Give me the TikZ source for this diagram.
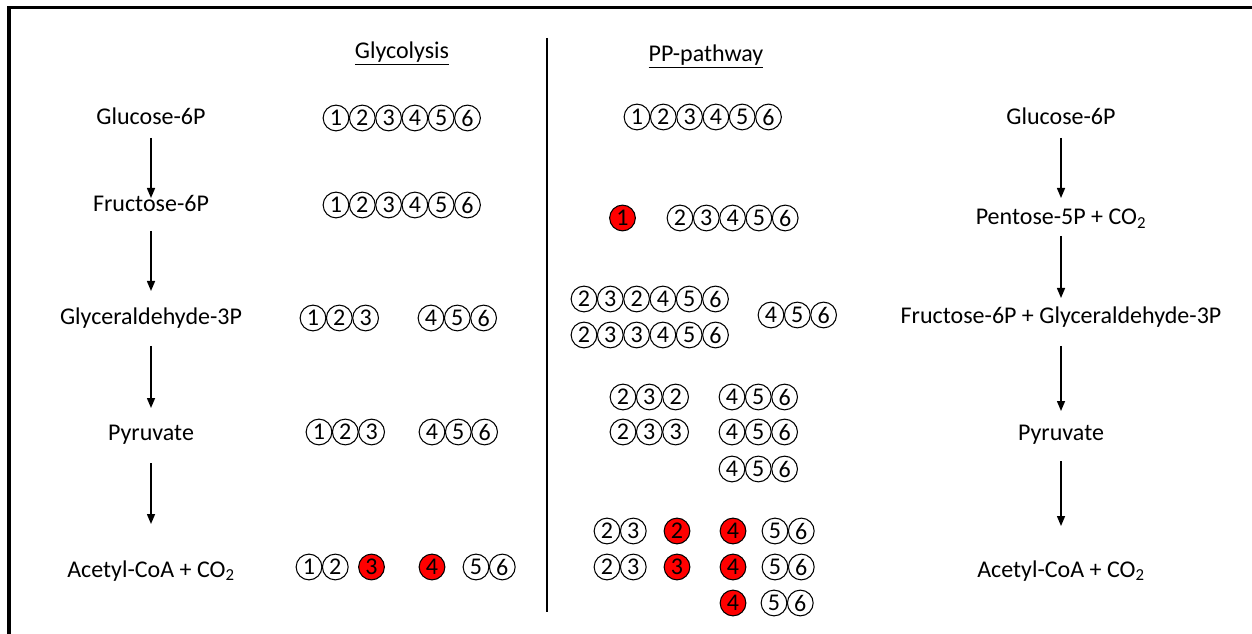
\documentclass[tikz,border=0pt]{standalone}
\usepackage{fontspec}
\setmainfont{Carlito}
\usetikzlibrary{arrows.meta}
\newcommand\cnrow[5]{\foreach \d [count=\i] in {#5}{\node[#2] (#1-\i) at ({#3+(\i-1)*26.3},#4) {\d};}}
\begin{document}
\begin{tikzpicture}[x=0.75pt,y=-0.75pt,
 lbl/.style={inner sep=0pt, font=\fontsize{18}{20}\selectfont, text height=13pt, text depth=4pt},
 cn/.style={circle, draw=black, line width=0.8pt, minimum size=19.3pt, inner sep=0pt, font=\fontsize{18}{20}\selectfont},
 cnred/.style={cn, fill=red},
 arr/.style={line width=1.1pt, -{Triangle[length=7.5pt,width=6pt]}},
 frame/.style={line width=2.3pt},
 divider/.style={line width=1.5pt}]
\useasboundingbox (0,0) rectangle (1252,634);
\draw[frame] (9,650) -- (9,7.5) -- (1270,7.5);
\draw[divider] (547,38) -- (547,612);
% headings
\node[lbl] (H1) at (402,53) {\underline{Glycolysis}};
\node[lbl] (H2) at (706,56) {\underline{PP-pathway}};
% left column
\node[lbl] (L1) at (151,119) {Glucose-6P};
\node[lbl] (L2) at (151,206) {Fructose-6P};
\node[lbl] (L3) at (151,319) {Glyceraldehyde-3P};
\node[lbl] (L4) at (151,434) {Pyruvate};
\node[lbl] (L5) at (151,571) {Acetyl-CoA + CO\textsubscript{2}};
% right column
\node[lbl] (R1) at (1061,119) {Glucose-6P};
\node[lbl] (R2) at (1061,219) {Pentose-5P + CO\textsubscript{2}};
\node[lbl] (R3) at (1061,318) {Fructose-6P + Glyceraldehyde-3P};
\node[lbl] (R4) at (1061,434) {Pyruvate};
\node[lbl] (R5) at (1061,571) {Acetyl-CoA + CO\textsubscript{2}};
% arrows
\draw[arr, shorten <=14.25pt, shorten >=6pt] (L1.center) -- (L2.center);
\draw[arr, shorten <=18.75pt, shorten >=21pt] (L2.center) -- (L3.center);
\draw[arr, shorten <=20.25pt, shorten >=19.5pt] (L3.center) -- (L4.center);
\draw[arr, shorten <=21.75pt, shorten >=35.25pt] (L4.center) -- (L5.center);
\draw[arr, shorten <=14.25pt, shorten >=15.75pt] (R1.center) -- (R2.center);
\draw[arr, shorten <=12.75pt, shorten >=15pt] (R2.center) -- (R3.center);
\draw[arr, shorten <=21pt, shorten >=17.25pt] (R3.center) -- (R4.center);
\draw[arr, shorten <=20.25pt, shorten >=33.75pt] (R4.center) -- (R5.center);
% glycolysis
\cnrow{ga}{cn}{336}{118}{1,2,3,4,5,6}
\cnrow{gb}{cn}{336}{205}{1,2,3,4,5,6}
\cnrow{gc1}{cn}{313}{318}{1,2,3}
\cnrow{gc2}{cn}{431}{318}{4,5,6}
\cnrow{gd1}{cn}{319}{432}{1,2,3}
\cnrow{gd2}{cn}{432}{432}{4,5,6}
\cnrow{ge1}{cn}{309}{567}{1,2}
\node[cnred] (ge2) at (371.5,567) {3};
\node[cnred] (ge3) at (432,567) {4};
\cnrow{ge4}{cn}{476}{567}{5,6}
% PP-pathway
\cnrow{pa}{cn}{637}{117}{1,2,3,4,5,6}
\node[cnred] (pb1) at (622.5,218) {1};
\cnrow{pb2}{cn}{680}{218}{2,3,4,5,6}
\cnrow{pc1}{cn}{584}{299}{2,3,2,4,5,6}
\cnrow{pc2}{cn}{584}{335}{2,3,3,4,5,6}
\cnrow{pc3}{cn}{771}{315}{4,5,6}
\cnrow{pd1}{cn}{623}{397}{2,3,2}
\cnrow{pd2}{cn}{623}{432}{2,3,3}
\cnrow{pd3}{cn}{732}{397}{4,5,6}
\cnrow{pd4}{cn}{732}{432}{4,5,6}
\cnrow{pd5}{cn}{732}{469}{4,5,6}
\cnrow{pe1}{cn}{607}{531}{2,3}
\node[cnred] (pe2) at (677,531) {2};
\node[cnred] (pe3) at (733,531) {4};
\cnrow{pe4}{cn}{775}{531}{5,6}
\cnrow{pf1}{cn}{607}{567}{2,3}
\node[cnred] (pf2) at (677,567) {3};
\node[cnred] (pf3) at (733,567) {4};
\cnrow{pf4}{cn}{775}{567}{5,6}
\node[cnred] (pg1) at (733,603) {4};
\cnrow{pg2}{cn}{774}{603}{5,6}
\end{tikzpicture}
\end{document}
